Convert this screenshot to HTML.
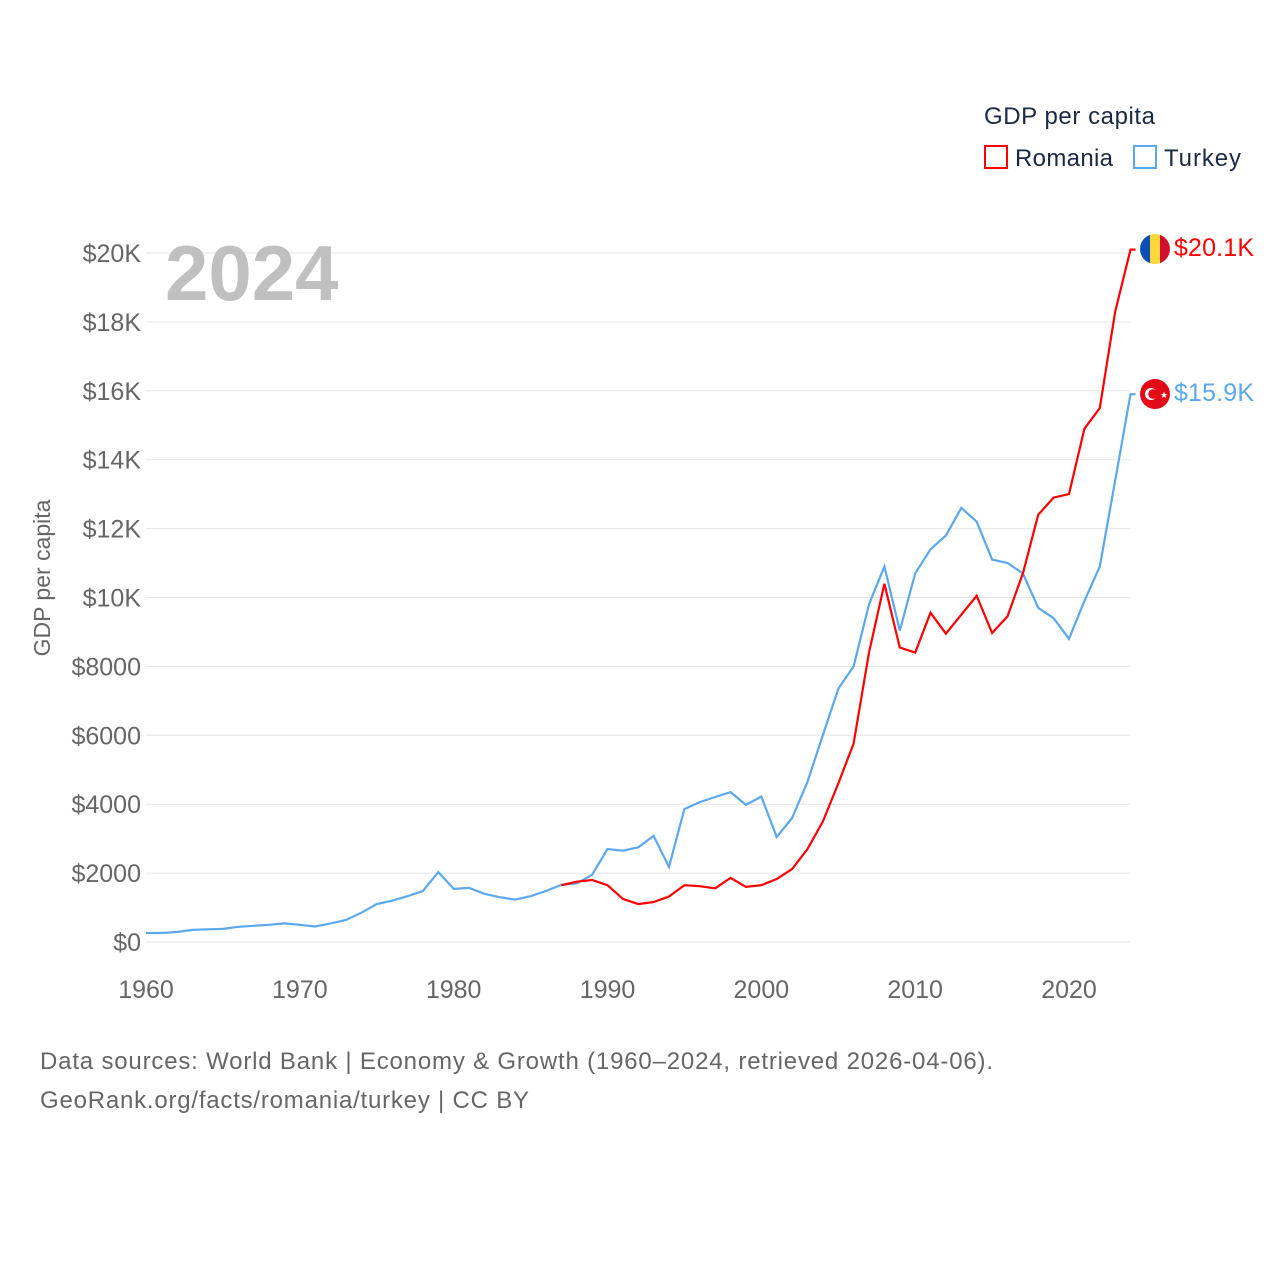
<!DOCTYPE html>
<html><head><meta charset="utf-8"><style>
body{margin:0;background:#fff;}
svg text{font-family:"Liberation Sans",sans-serif;}
</style></head><body>
<svg width="1280" height="1280" viewBox="0 0 1280 1280">
<defs><clipPath id="rc"><circle cx="1155" cy="249" r="15"/></clipPath></defs>
<g id="grid"></g>
<g id="ylabels"></g>
<g id="xlabels"></g>
<text x="165" y="300" font-size="78" font-weight="bold" fill="#c0c0c0">2024</text>
<text x="50" y="578" font-size="23" fill="#666" transform="rotate(-90 50 578)" text-anchor="middle">GDP per capita</text>
<path id="tur" fill="none" stroke="#5ca8ec" stroke-width="2.2"/>
<path id="rom" fill="none" stroke="#ff0000" stroke-width="2.2"/>
<g clip-path="url(#rc)">
<rect x="1140" y="234" width="10" height="30" fill="#0b4fb5"/><rect x="1150" y="234" width="10" height="30" fill="#fcd83a"/><rect x="1160" y="234" width="10" height="30" fill="#d0102c"/></g>
<g><circle cx="1155" cy="394" r="15" fill="#e30a17"/><circle cx="1151" cy="394" r="6" fill="#fff"/><circle cx="1153" cy="394" r="4.8" fill="#e30a17"/><text x="1160" y="398" font-size="9" fill="#fff">★</text></g>
<text x="1174" y="256" font-size="25" fill="#ff0000" textLength="80">$20.1K</text>
<text x="1174" y="401" font-size="25" fill="#5ca8ec" textLength="80">$15.9K</text>
<text x="984" y="124" font-size="24" fill="#1a2a44" textLength="171">GDP per capita</text>
<g><rect x="985" y="146" width="22" height="22" fill="none" stroke="#ff0000" stroke-width="2"/><text x="1015" y="166" font-size="24" fill="#1a2a44" textLength="98">Romania</text></g>
<g><rect x="1134" y="146" width="22" height="22" fill="none" stroke="#5ca8ec" stroke-width="2"/><text x="1164" y="166" font-size="24" fill="#1a2a44" textLength="77">Turkey</text></g>
<text x="40" y="1069" font-size="24" fill="#666" textLength="953">Data sources: World Bank | Economy &amp; Growth (1960–2024, retrieved 2026-04-06).</text>
<text x="40" y="1108" font-size="24" fill="#666" textLength="489">GeoRank.org/facts/romania/turkey | CC BY</text>
</svg>
<script>
const years=[];for(let y=1960;y<=2024;y++)years.push(y);
const turkey=[260,260,290,350,370,380,440,470,500,540,500,450,540,640,850,1100,1200,1330,1480,2030,1540,1570,1400,1300,1230,1330,1480,1660,1700,1950,2700,2650,2750,3080,2180,3860,4060,4210,4350,3980,4220,3050,3600,4650,6010,7350,8000,9800,10900,9040,10700,11400,11800,12600,12200,11100,11000,10700,9700,9400,8800,9900,10900,13400,15900];
const romaniaStart=1987;
const romania=[1650,1750,1800,1650,1250,1100,1160,1320,1650,1620,1560,1860,1600,1650,1830,2120,2700,3500,4600,5760,8400,10400,8550,8400,9560,8950,9500,10050,8970,9450,10700,12400,12900,13000,14900,15500,18300,20100];
const yTicks=[0,2000,4000,6000,8000,10000,12000,14000,16000,18000,20000];
const yTickLabels=["$0","$2000","$4000","$6000","$8000","$10K","$12K","$14K","$16K","$18K","$20K"];
const xTicks=[1960,1970,1980,1990,2000,2010,2020];
const X=y=>146+(y-1960)*(1069-146)/60;
const Y=v=>942-v*(942-253)/20000;
const NS="http://www.w3.org/2000/svg";
const g=document.getElementById('grid'),yl=document.getElementById('ylabels'),xl=document.getElementById('xlabels');
yTicks.forEach((t,i)=>{
 const l=document.createElementNS(NS,'line');
 l.setAttribute('x1',146);l.setAttribute('x2',1130);l.setAttribute('y1',Y(t));l.setAttribute('y2',Y(t));
 l.setAttribute('stroke','#e6e6e6');l.setAttribute('stroke-width','1');
 
 
 g.appendChild(l);
 const tx=document.createElementNS(NS,'text');
 tx.setAttribute('x',141);tx.setAttribute('y',Y(t)+9);tx.setAttribute('text-anchor','end');
 tx.setAttribute('font-size','25');tx.setAttribute('fill','#666');tx.textContent=yTickLabels[i];
 
 
 yl.appendChild(tx);
});
xTicks.forEach(t=>{
 const tx=document.createElementNS(NS,'text');
 tx.setAttribute('x',X(t));tx.setAttribute('y',998);tx.setAttribute('text-anchor','middle');
 tx.setAttribute('font-size','25');tx.setAttribute('fill','#666');tx.textContent=t;
 
 
 xl.appendChild(tx);
});
function path(ys,vals){let d='';vals.forEach((v,i)=>{d+=(i?'L':'M')+X(ys[i]).toFixed(1)+' '+Y(v).toFixed(1)});
 d+='L'+(X(ys[ys.length-1])+5).toFixed(1)+' '+Y(vals[vals.length-1]).toFixed(1);return d;}
document.getElementById('tur').setAttribute('d',path(years,turkey));
document.getElementById('rom').setAttribute('d',path(years.filter(y=>y>=romaniaStart),romania));
</script>
</body></html>
